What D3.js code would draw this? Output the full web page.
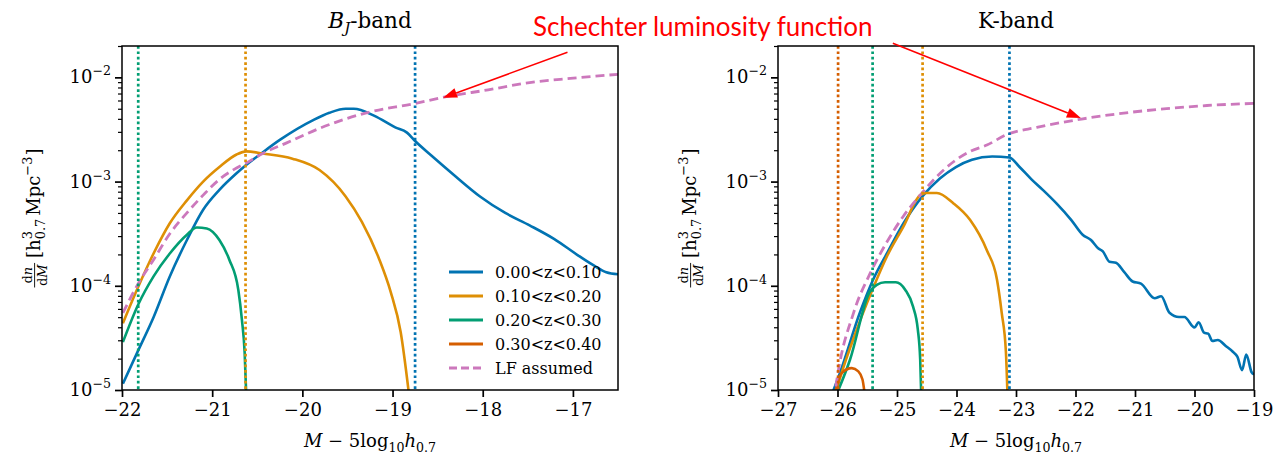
<!DOCTYPE html>
<html><head><meta charset="utf-8">
<script src="https://cdn.jsdelivr.net/npm/d3@7"></script>
<style>body{margin:0;background:#fff}svg{display:block}</style>
</head><body>
<svg id="chart" width="1275" height="459"></svg>
<script>
// ---------------- data ----------------
const seriesLabels = ["0.00<z<0.10", "0.10<z<0.20", "0.20<z<0.30", "0.30<z<0.40"];
const lfLabel = "LF assumed";
const seriesColors = ["#0173B2", "#DE8F05", "#029E73", "#D55E00"];
const lfColor = "#CC78BC";
const annotationText = "Schechter luminosity function";

const bjTicksX = [-22, -21, -20, -19, -18, -17];
const kTicksX = [-27, -26, -25, -24, -23, -22, -21, -20, -19];
const yTicks = [1e-5, 1e-4, 1e-3, 1e-2];
const yTickExp = ["−5", "−4", "−3", "−2"];

// B_J band
const bjBlueM = [-21.99,-21.82,-21.65,-21.47,-21.28,-21.10,-20.92,-20.73,-20.62,-20.47,-20.25,-19.88,-19.70,-19.52,-19.43,-19.20,-18.97,-18.84,-18.75,-18.57,-18.30,-18.03,-17.75,-17.48,-17.21,-16.94,-16.76,-16.63,-16.50];
const bjBlueN = [1.15e-5,2.40e-5,5.0e-5,1.23e-4,2.75e-4,5.37e-4,8.32e-4,1.20e-3,1.45e-3,1.82e-3,2.51e-3,3.89e-3,4.57e-3,5.0e-3,5.0e-3,4.27e-3,3.31e-3,2.95e-3,2.45e-3,1.78e-3,1.12e-3,7.2e-4,5.0e-4,3.8e-4,2.82e-4,1.95e-4,1.55e-4,1.35e-4,1.29e-4];
const bjOrangeM = [-21.99,-21.82,-21.65,-21.47,-21.28,-21.10,-20.92,-20.73,-20.62,-20.44,-20.11,-19.81,-19.52,-19.34,-19.15,-19.02,-18.91,-18.81];
const bjOrangeN = [4.37e-5,9.77e-5,2.04e-4,3.98e-4,6.61e-4,1.0e-3,1.38e-3,1.82e-3,1.95e-3,1.86e-3,1.66e-3,1.29e-3,7.2e-4,4.1e-4,1.82e-4,8.7e-5,3.6e-5,8e-6];
const bjGreenM = [-21.99,-21.82,-21.65,-21.47,-21.28,-21.17,-21.06,-20.92,-20.81,-20.71,-20.67,-20.64,-20.62];
const bjGreenN = [2.88e-5,6.61e-5,1.23e-4,2.04e-4,3.09e-4,3.63e-4,3.55e-4,2.75e-4,1.78e-4,9.12e-5,4.68e-5,2.29e-5,7.9e-6];
const bjBrownM = [];
const bjBrownN = [];
const bjLfM = [-21.99,-21.82,-21.65,-21.47,-21.28,-21.10,-20.92,-20.73,-20.62,-20.44,-20.18,-19.81,-19.29,-18.75,-18.43,-17.94,-17.48,-17.03,-16.50];
const bjLfN = [5.5e-5,1.05e-4,1.78e-4,3.16e-4,5.01e-4,7.41e-4,1.05e-3,1.35e-3,1.51e-3,1.86e-3,2.34e-3,3.24e-3,4.57e-3,5.62e-3,6.46e-3,7.59e-3,8.91e-3,9.77e-3,1.07e-2];
const bjVlines = [-18.75, -20.63, -21.82, null];

// K band
const kBlueM = [-26.10,-25.96,-25.62,-25.40,-25.16,-24.89,-24.57,-24.28,-24.01,-23.74,-23.40,-23.11,-22.94,-22.74,-22.55,-22.32,-22.07,-21.88,-21.74,-21.62,-21.54,-21.43,-21.32,-21.18,-21.04,-20.90,-20.67,-20.56,-20.42,-20.26,-20.17,-20.00,-19.93,-19.84,-19.77,-19.70,-19.61,-19.47,-19.36,-19.28,-19.20,-19.13,-19.04,-19.00];
const kBlueN = [8.9e-6,1.45e-5,5.6e-5,1.15e-4,2.09e-4,3.98e-4,7.24e-4,1.07e-3,1.38e-3,1.62e-3,1.74e-3,1.70e-3,1.38e-3,1.05e-3,8.32e-4,6.17e-4,4.27e-4,3.09e-4,2.75e-4,2.29e-4,2.14e-4,1.70e-4,1.66e-4,1.35e-4,1.10e-4,1.05e-4,7.59e-5,7.94e-5,5.50e-5,5.01e-5,5.01e-5,3.98e-5,4.47e-5,3.55e-5,3.47e-5,2.95e-5,3.02e-5,2.63e-5,2.34e-5,2.09e-5,1.55e-5,2.19e-5,1.48e-5,1.41e-5];
const kOrangeM = [-26.06,-26.00,-25.74,-25.40,-25.17,-24.89,-24.61,-24.50,-24.33,-24.05,-23.77,-23.49,-23.32,-23.24,-23.17,-23.14];
const kOrangeN = [7.9e-6,1.07e-5,3.02e-5,9.55e-5,1.91e-4,3.72e-4,7.41e-4,7.76e-4,7.76e-4,6.17e-4,4.27e-4,2.19e-4,1.15e-4,5.50e-5,2.34e-5,7.9e-6];
const kGreenM = [-26.06,-25.79,-25.46,-25.34,-25.20,-25.02,-24.86,-24.73,-24.65,-24.61,-24.59];
const kGreenN = [7.9e-6,1.95e-5,8.71e-5,1.02e-4,1.08e-4,1.08e-4,9.12e-5,6.31e-5,3.80e-5,1.95e-5,7.9e-6];
const kBrownM = [-26.07,-25.93,-25.76,-25.65,-25.58,-25.53];
const kBrownN = [7.9e-6,1.45e-5,1.62e-5,1.51e-5,1.26e-5,7.9e-6];
const kLfM = [-26.06,-26.01,-25.73,-25.45,-25.17,-24.89,-24.61,-24.33,-24.05,-23.77,-23.49,-23.16,-22.65,-21.90,-21.15,-20.47,-19.79,-19.00];
const kLfN = [7.9e-6,1.26e-5,5.50e-5,1.32e-4,2.63e-4,4.68e-4,7.41e-4,1.12e-3,1.55e-3,1.95e-3,2.24e-3,2.82e-3,3.31e-3,3.98e-3,4.57e-3,5.01e-3,5.37e-3,5.62e-3];
const kVlines = [-23.11, -24.57, -25.41, -25.99];

// annotation arrows (tail and tip in data coordinates of each panel)
const bjArrowM = [-17.06, -18.44];
const bjArrowN = [1.74e-2, 6.38e-3];
const kArrowM = [-25.07, -21.91];
const kArrowN = [2.12e-2, 4.07e-3];

// ---------------- drawing ----------------
const svg = d3.select("#chart");
const serif = "'DejaVu Serif', serif";
const TICK_FS = 18, LEG_FS = 16, TITLE_FS = 21.5, LABEL_FS = 18;
const yDomain = [1e-5, 2.0e-2];
const TOP = 46, BOTTOM = 390;

function measure(str, size, italic) {
  const t = svg.append("text").attr("font-family", serif).attr("font-size", size)
    .attr("font-style", italic ? "italic" : "normal").text(str);
  const w = t.node().getComputedTextLength();
  t.remove();
  return w;
}

function yLabel(cx, cy) {
  const g = svg.append("g").attr("transform", `translate(${cx},${cy}) rotate(-90)`);
  const inner = g.append("g");
  const fs = LABEL_FS, sm = fs * 0.72;
  let x = 0;
  const ax = -fs * 0.3;
  const fw = Math.max(measure("d", sm) + measure("n", sm, true), measure("d", sm) + measure("M", sm, true)) + 3;
  const num = inner.append("text").attr("x", x + fw / 2).attr("y", ax - 2.5).attr("text-anchor", "middle")
    .attr("font-family", serif).attr("font-size", sm);
  num.append("tspan").text("d"); num.append("tspan").attr("font-style", "italic").text("n");
  const den = inner.append("text").attr("x", x + fw / 2).attr("y", ax + 2.5 + sm * 0.73).attr("text-anchor", "middle")
    .attr("font-family", serif).attr("font-size", sm);
  den.append("tspan").text("d"); den.append("tspan").attr("font-style", "italic").text("M");
  inner.append("line").attr("x1", x).attr("x2", x + fw).attr("y1", ax).attr("y2", ax).attr("stroke", "#000").attr("stroke-width", 0.9);
  x += fw + 5;
  const put = (str, size, y, italic) => {
    inner.append("text").attr("x", x).attr("y", y).attr("font-family", serif).attr("font-size", size)
      .attr("font-style", italic ? "italic" : "normal").text(str);
    return measure(str, size, italic);
  };
  x += put("[h", fs, 0);
  const w1 = put("3", sm, -fs * 0.42);
  const w2 = put("0.7", sm, fs * 0.28);
  x += Math.max(w1, w2) + 3;
  x += put("Mpc", fs, 0);
  x += put("−3", sm, -fs * 0.42) + 1;
  x += put("]", fs, 0);
  inner.attr("transform", `translate(${-x / 2},0)`);
}

function xLabel(cx, y) {
  const t = svg.append("text").attr("x", cx).attr("y", y).attr("text-anchor", "middle")
    .attr("font-family", serif).attr("font-size", LABEL_FS);
  t.append("tspan").attr("font-style", "italic").text("M");
  t.append("tspan").text(" − 5log");
  t.append("tspan").attr("font-size", LABEL_FS * 0.7).attr("dy", 5).text("10");
  t.append("tspan").attr("font-style", "italic").attr("dy", -5).text("h");
  t.append("tspan").attr("font-size", LABEL_FS * 0.7).attr("dy", 5).text("0.7");
}

function panel(cfg) {
  const x = d3.scaleLinear().domain(cfg.xDomain).range([cfg.left, cfg.right]);
  const y = d3.scaleLog().domain(yDomain).range([BOTTOM, TOP]);
  const clipId = "clip" + cfg.id;
  svg.append("clipPath").attr("id", clipId).append("rect")
    .attr("x", cfg.left).attr("y", TOP).attr("width", cfg.right - cfg.left).attr("height", BOTTOM - TOP);
  const plot = svg.append("g").attr("clip-path", `url(#${clipId})`);

  const line = d3.line().x(d => x(d[0])).y(d => y(d[1])).curve(d3.curveMonotoneX);
  cfg.series.forEach((s, i) => {
    const pts = d3.zip(s[0], s[1]);
    if (!pts.length) return;
    plot.append("path").attr("d", line(pts)).attr("fill", "none")
      .attr("stroke", seriesColors[i]).attr("stroke-width", 2.6).attr("stroke-linejoin", "round");
  });
  plot.append("path").attr("d", line(d3.zip(cfg.lf[0], cfg.lf[1]))).attr("fill", "none")
    .attr("stroke", lfColor).attr("stroke-width", 2.8).attr("stroke-dasharray", "9,5");

  cfg.vlines.forEach((v, i) => {
    if (v == null) return;
    plot.append("line").attr("x1", x(v)).attr("x2", x(v)).attr("y1", TOP).attr("y2", BOTTOM)
      .attr("stroke", seriesColors[i]).attr("stroke-width", 2.7).attr("stroke-dasharray", "2.7,2.7");
  });

  // axes
  const xa = svg.append("g").attr("transform", `translate(0,${BOTTOM})`)
    .call(d3.axisBottom(x).tickValues(cfg.xTicks).tickSize(7).tickPadding(6).tickFormat(d3.format("d")));
  xa.select(".domain").remove();
  xa.selectAll("line").attr("stroke-width", 1.7);
  xa.selectAll("text").attr("font-family", serif).attr("font-size", TICK_FS).attr("fill", "#000");

  const minor = [];
  for (let k = -5; k <= -2; k++) for (let m = 2; m <= 9; m++) { const v = m * Math.pow(10, k); if (v <= yDomain[1]) minor.push(v); }
  const ym = svg.append("g").attr("transform", `translate(${cfg.left},0)`)
    .call(d3.axisLeft(y).tickValues(minor).tickSize(4).tickFormat(""));
  ym.select(".domain").remove();
  ym.selectAll("line").attr("stroke-width", 1.2);
  const ya = svg.append("g").attr("transform", `translate(${cfg.left},0)`)
    .call(d3.axisLeft(y).tickValues(yTicks).tickSize(7).tickFormat(""));
  ya.select(".domain").remove();
  ya.selectAll("line").attr("stroke-width", 1.7);
  yTicks.forEach((v, i) => {
    const t = svg.append("text").attr("x", cfg.left - 11).attr("y", y(v) + 6).attr("text-anchor", "end")
      .attr("font-family", serif).attr("font-size", TICK_FS);
    t.append("tspan").text("10");
    t.append("tspan").attr("font-size", TICK_FS * 0.7).attr("dy", -8).text(yTickExp[i]);
  });

  svg.append("rect").attr("x", cfg.left).attr("y", TOP).attr("width", cfg.right - cfg.left).attr("height", BOTTOM - TOP)
    .attr("fill", "none").attr("stroke", "#000").attr("stroke-width", 1.5);

  // title
  const cx = (cfg.left + cfg.right) / 2;
  const tt = svg.append("text").attr("x", cx).attr("y", 28).attr("text-anchor", "middle")
    .attr("font-family", serif).attr("font-size", TITLE_FS);
  cfg.title(tt);

  yLabel(cfg.left - 82, (TOP + BOTTOM) / 2);
  xLabel(cx, 447);

  // arrow
  const x1 = x(cfg.arrow[0][0]), y1 = y(cfg.arrow[1][0]), x2 = x(cfg.arrow[0][1]), y2 = y(cfg.arrow[1][1]);
  const ang = Math.atan2(y2 - y1, x2 - x1), L = 14, hw = 5;
  const bx = x2 - L * Math.cos(ang), by = y2 - L * Math.sin(ang);
  svg.append("line").attr("x1", x1).attr("y1", y1).attr("x2", bx).attr("y2", by).attr("stroke", "#FF0000").attr("stroke-width", 1.6);
  svg.append("path").attr("d", `M${x2},${y2}L${bx - hw * Math.sin(ang)},${by + hw * Math.cos(ang)}L${bx + hw * Math.sin(ang)},${by - hw * Math.cos(ang)}Z`).attr("fill", "#FF0000");

  return { x, y };
}

panel({
  id: "bj", left: 122, right: 618, xDomain: [-22, -16.5], xTicks: bjTicksX,
  series: [[bjBlueM, bjBlueN], [bjOrangeM, bjOrangeN], [bjGreenM, bjGreenN], [bjBrownM, bjBrownN]],
  lf: [bjLfM, bjLfN], vlines: bjVlines, arrow: [bjArrowM, bjArrowN],
  title: t => { t.append("tspan").attr("font-style", "italic").text("B");
    t.append("tspan").attr("font-style", "italic").attr("font-size", TITLE_FS * 0.7).attr("dy", 5).text("J");
    t.append("tspan").attr("dy", -5).text("-band"); }
});
panel({
  id: "k", left: 778, right: 1254, xDomain: [-27, -19], xTicks: kTicksX,
  series: [[kBlueM, kBlueN], [kOrangeM, kOrangeN], [kGreenM, kGreenN], [kBrownM, kBrownN]],
  lf: [kLfM, kLfN], vlines: kVlines, arrow: [kArrowM, kArrowN],
  title: t => t.text("K-band")
});

// legend (left panel)
const leg = svg.append("g");
const legItems = seriesLabels.map((s, i) => ({ label: s, color: seriesColors[i], dash: null }))
  .concat([{ label: lfLabel, color: lfColor, dash: "8,4" }]);
legItems.forEach((d, i) => {
  const yy = 272 + i * 24;
  leg.append("line").attr("x1", 449).attr("x2", 483).attr("y1", yy).attr("y2", yy)
    .attr("stroke", d.color).attr("stroke-width", 2.8).attr("stroke-dasharray", d.dash);
  leg.append("text").attr("x", 495).attr("y", yy + 6).attr("font-family", serif).attr("font-size", LEG_FS).text(d.label);
});

// annotation text
svg.append("text").attr("x", 533).attr("y", 36).attr("font-family", "Lato, sans-serif").attr("font-size", 26)
  .attr("fill", "#FF0000").text(annotationText);
</script>
</body></html>
